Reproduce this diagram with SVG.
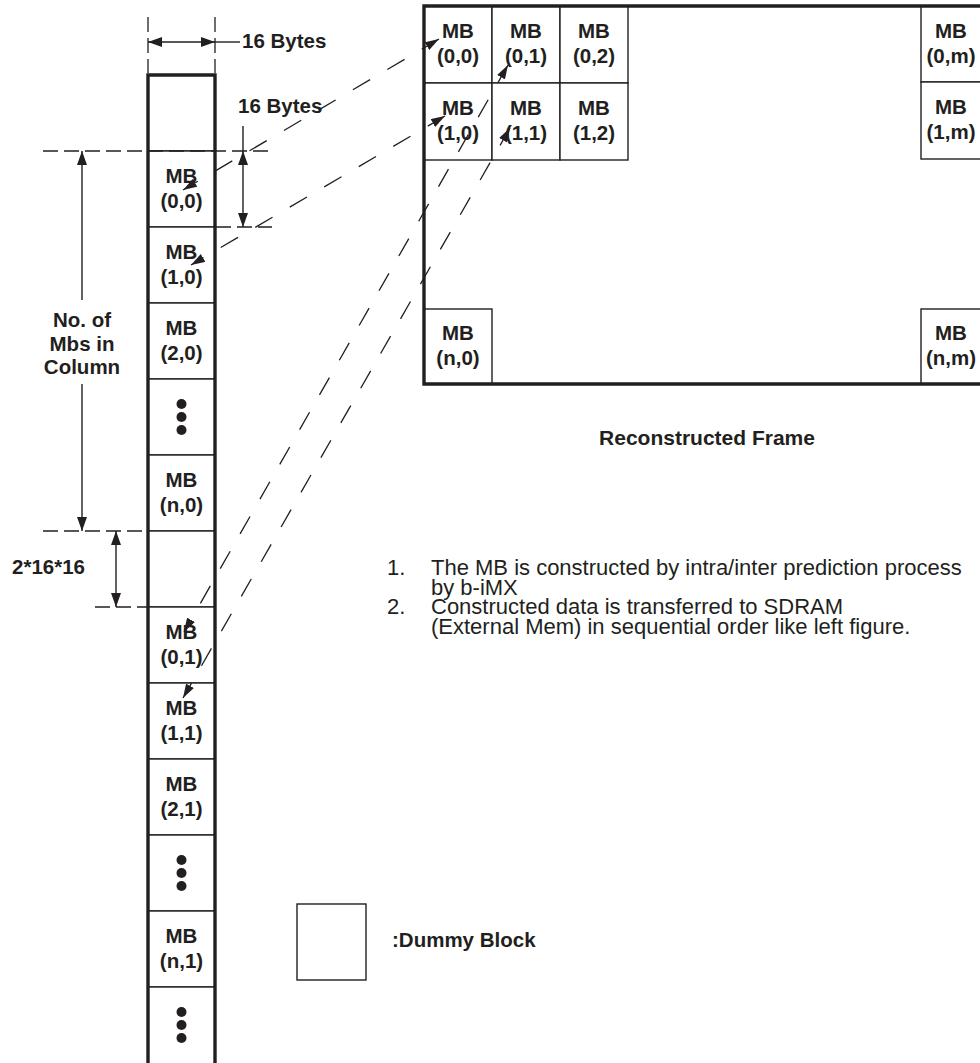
<svg xmlns="http://www.w3.org/2000/svg" width="980" height="1063" viewBox="0 0 980 1063">
<style>
.b{font-family:"Liberation Sans",Arial,sans-serif;font-weight:bold;font-size:20.5px;fill:#231f20}
.m{text-anchor:middle}
.r{font-family:"Liberation Sans",Arial,sans-serif;font-size:22px;fill:#231f20}
.cell{fill:#fff;stroke:#231f20;stroke-width:1.4}
.thick{fill:none;stroke:#231f20;stroke-width:3.4}
.ln{fill:none;stroke:#231f20;stroke-width:1.4}
.hd{fill:none;stroke:#231f20;stroke-width:1.3;stroke-dasharray:15 6}
.sd{fill:none;stroke:#231f20;stroke-width:1.3;stroke-dasharray:20 20}
.dot{fill:#231f20}
</style>
<defs>
<marker id="ah" viewBox="0 0 14 9" refX="14" refY="4.5" markerWidth="14" markerHeight="9" markerUnits="userSpaceOnUse" orient="auto-start-reverse"><path d="M0,0 L14,4.5 L0,9 z" fill="#231f20"/></marker>
<marker id="dh" viewBox="0 0 14 10" refX="14" refY="5" markerWidth="14" markerHeight="10" markerUnits="userSpaceOnUse" orient="auto-start-reverse"><path d="M0,0 L14,5 L0,10 z" fill="#231f20"/></marker>
</defs>
<rect width="980" height="1063" fill="#fff"/>

<!-- Memory column -->
<g id="column">
<g id="col-dummy-top"><rect class="cell" x="148" y="75" width="67" height="76"/></g>
<g id="col-mb-0-0"><rect class="cell" x="148" y="151" width="67" height="76"/><text class="b m" x="181.5" y="183">MB</text><text class="b m" x="181.5" y="208">(0,0)</text></g>
<g id="col-mb-1-0"><rect class="cell" x="148" y="227" width="67" height="76"/><text class="b m" x="181.5" y="259">MB</text><text class="b m" x="181.5" y="284">(1,0)</text></g>
<g id="col-mb-2-0"><rect class="cell" x="148" y="303" width="67" height="76"/><text class="b m" x="181.5" y="335">MB</text><text class="b m" x="181.5" y="360">(2,0)</text></g>
<g id="col-dots-0"><rect class="cell" x="148" y="379" width="67" height="76"/><circle class="dot" cx="181.5" cy="404" r="5"/><circle class="dot" cx="181.5" cy="417" r="5"/><circle class="dot" cx="181.5" cy="430" r="5"/></g>
<g id="col-mb-n-0"><rect class="cell" x="148" y="455" width="67" height="76"/><text class="b m" x="181.5" y="487">MB</text><text class="b m" x="181.5" y="512">(n,0)</text></g>
<g id="col-dummy-mid"><rect class="cell" x="148" y="531" width="67" height="76"/></g>
<g id="col-mb-0-1"><rect class="cell" x="148" y="607" width="67" height="76"/><text class="b m" x="181.5" y="639">MB</text><text class="b m" x="181.5" y="664">(0,1)</text></g>
<g id="col-mb-1-1"><rect class="cell" x="148" y="683" width="67" height="76"/><text class="b m" x="181.5" y="715">MB</text><text class="b m" x="181.5" y="740">(1,1)</text></g>
<g id="col-mb-2-1"><rect class="cell" x="148" y="759" width="67" height="76"/><text class="b m" x="181.5" y="791">MB</text><text class="b m" x="181.5" y="816">(2,1)</text></g>
<g id="col-dots-1"><rect class="cell" x="148" y="835" width="67" height="76"/><circle class="dot" cx="181.5" cy="860" r="5"/><circle class="dot" cx="181.5" cy="873" r="5"/><circle class="dot" cx="181.5" cy="886" r="5"/></g>
<g id="col-mb-n-1"><rect class="cell" x="148" y="911" width="67" height="76"/><text class="b m" x="181.5" y="943">MB</text><text class="b m" x="181.5" y="968">(n,1)</text></g>
<g id="col-dots-2"><rect class="cell" x="148" y="987" width="67" height="80"/><circle class="dot" cx="181.5" cy="1012" r="5"/><circle class="dot" cx="181.5" cy="1025" r="5"/><circle class="dot" cx="181.5" cy="1038" r="5"/></g>
<path class="thick" d="M148,1068 V75 H215 V1068"/>
</g>

<!-- Reconstructed frame -->
<g id="frame">
<g id="fr-mb-0-0"><rect class="cell" x="424" y="6" width="68" height="77"/><text class="b m" x="458" y="38">MB</text><text class="b m" x="458" y="63">(0,0)</text></g>
<g id="fr-mb-0-1"><rect class="cell" x="492" y="6" width="68" height="77"/><text class="b m" x="526" y="38">MB</text><text class="b m" x="526" y="63">(0,1)</text></g>
<g id="fr-mb-0-2"><rect class="cell" x="560" y="6" width="68" height="77"/><text class="b m" x="594" y="38">MB</text><text class="b m" x="594" y="63">(0,2)</text></g>
<g id="fr-mb-1-0"><rect class="cell" x="424" y="83" width="68" height="77"/><text class="b m" x="458" y="115">MB</text><text class="b m" x="458" y="140">(1,0)</text></g>
<g id="fr-mb-1-1"><rect class="cell" x="492" y="83" width="68" height="77"/><text class="b m" x="526" y="115">MB</text><text class="b m" x="526" y="140">(1,1)</text></g>
<g id="fr-mb-1-2"><rect class="cell" x="560" y="83" width="68" height="77"/><text class="b m" x="594" y="115">MB</text><text class="b m" x="594" y="140">(1,2)</text></g>
<g id="fr-mb-0-m"><rect class="cell" x="921" y="6" width="70" height="76"/><text class="b m" x="951" y="38">MB</text><text class="b m" x="951" y="63">(0,m)</text></g>
<g id="fr-mb-1-m"><rect class="cell" x="921" y="82" width="70" height="77"/><text class="b m" x="951" y="114">MB</text><text class="b m" x="951" y="139">(1,m)</text></g>
<g id="fr-mb-n-0"><rect class="cell" x="424" y="309" width="68" height="75"/><text class="b m" x="458" y="340">MB</text><text class="b m" x="458" y="365">(n,0)</text></g>
<g id="fr-mb-n-m"><rect class="cell" x="921" y="309" width="70" height="75"/><text class="b m" x="951" y="340">MB</text><text class="b m" x="951" y="365">(n,m)</text></g>
<path class="thick" d="M985,6 H424 V384 H985"/>
<text class="b m" x="707" y="445" style="font-size:21px">Reconstructed Frame</text>
</g>

<!-- Notes -->
<g id="notes">
<text class="r"><tspan x="387" y="575">1.</tspan><tspan x="387" y="614">2.</tspan></text>
<text class="r"><tspan x="431" y="575">The MB is constructed by intra/inter prediction process</tspan><tspan x="431" y="594.5">by b-iMX</tspan><tspan x="431" y="614">Constructed data is transferred to SDRAM</tspan><tspan x="431" y="633.5">(External Mem) in sequential order like left figure.</tspan></text>
</g>

<!-- Legend -->
<g id="legend">
<rect class="cell" x="297" y="904" width="69" height="76"/>
<text class="b" x="392" y="947">:Dummy Block</text>
</g>

<!-- Dimensions -->
<g id="dimensions">
<path class="hd" d="M148,17 V73 M215,17 V73"/>
<path class="ln" d="M148,42 H215" marker-start="url(#dh)" marker-end="url(#dh)"/>
<path class="ln" d="M215,42 H240"/>
<text class="b" x="242" y="48">16 Bytes</text>
<text class="b" x="238" y="113">16 Bytes</text>
<path class="ln" d="M243,126 V151"/>
<path class="ln" d="M243,151 V227" marker-start="url(#dh)" marker-end="url(#dh)"/>
<path class="hd" d="M43,151 H272 M216,227 H272"/>
<path class="hd" d="M43,531 H147 M95,607 H147"/>
<path class="ln" d="M82,300 V151" marker-end="url(#dh)"/>
<path class="ln" d="M82,384 V531" marker-end="url(#dh)"/>
<text class="b m" x="82" y="327">No. of</text>
<text class="b m" x="82" y="351">Mbs in</text>
<text class="b m" x="82" y="374">Column</text>
<path class="ln" d="M116,531 V607" marker-start="url(#dh)" marker-end="url(#dh)"/>
<text class="b" x="12" y="574">2*16*16</text>
</g>

<!-- Connectors -->
<g id="connectors">
<path class="sd" d="M439,39 L183,190" marker-start="url(#ah)" marker-end="url(#ah)"/>
<path class="sd" d="M445,116 L191,265" marker-start="url(#ah)" marker-end="url(#ah)"/>
<path class="sd" d="M508,65 L184,632" marker-start="url(#ah)" marker-end="url(#ah)"/>
<path class="sd" d="M510,128 L183,698" marker-start="url(#ah)" marker-end="url(#ah)"/>
</g>
</svg>
